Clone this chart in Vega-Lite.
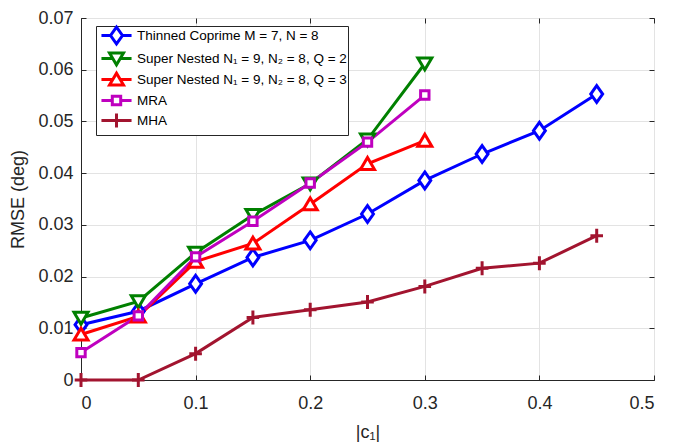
{
  "$schema": "https://vega.github.io/schema/vega-lite/v6.json",
  "width": 573,
  "height": 362,
  "autosize": "none",
  "padding": {"left": 81, "top": 18, "right": 21, "bottom": 63},
  "background": "white",
  "config": {
    "font": "Liberation Sans",
    "view": {"stroke": "#262626", "strokeWidth": 1},
    "axis": {
      "domainColor": "#262626",
      "tickColor": "#262626",
      "tickSize": -5,
      "labelColor": "#262626",
      "labelFont": "Liberation Sans",
      "labelFontSize": 18,
      "titleFont": "Liberation Sans",
      "titleFontSize": 18,
      "titleFontWeight": "normal",
      "titleColor": "#262626",
      "gridColor": "#e3e3e3",
      "gridWidth": 1
    }
  },
  "data": {
    "values": [
      {"s": "TC", "x": 0, "y": 0.0107},
      {"s": "TC", "x": 0.05, "y": 0.0133},
      {"s": "TC", "x": 0.1, "y": 0.0186},
      {"s": "TC", "x": 0.15, "y": 0.0237},
      {"s": "TC", "x": 0.2, "y": 0.0270},
      {"s": "TC", "x": 0.25, "y": 0.0321},
      {"s": "TC", "x": 0.3, "y": 0.0386},
      {"s": "TC", "x": 0.35, "y": 0.0437},
      {"s": "TC", "x": 0.4, "y": 0.0482},
      {"s": "TC", "x": 0.45, "y": 0.0553},
      {"s": "SN2", "x": 0, "y": 0.0120},
      {"s": "SN2", "x": 0.05, "y": 0.0152},
      {"s": "SN2", "x": 0.1, "y": 0.0246},
      {"s": "SN2", "x": 0.15, "y": 0.0319},
      {"s": "SN2", "x": 0.2, "y": 0.0380},
      {"s": "SN2", "x": 0.25, "y": 0.0465},
      {"s": "SN2", "x": 0.3, "y": 0.0612},
      {"s": "SN3", "x": 0, "y": 0.0088},
      {"s": "SN3", "x": 0.05, "y": 0.0123},
      {"s": "SN3", "x": 0.1, "y": 0.0229},
      {"s": "SN3", "x": 0.15, "y": 0.0264},
      {"s": "SN3", "x": 0.2, "y": 0.0340},
      {"s": "SN3", "x": 0.25, "y": 0.0418},
      {"s": "SN3", "x": 0.3, "y": 0.0463},
      {"s": "MRA", "x": 0, "y": 0.0053},
      {"s": "MRA", "x": 0.05, "y": 0.0124},
      {"s": "MRA", "x": 0.1, "y": 0.0238},
      {"s": "MRA", "x": 0.15, "y": 0.0307},
      {"s": "MRA", "x": 0.2, "y": 0.0381},
      {"s": "MRA", "x": 0.25, "y": 0.0460},
      {"s": "MRA", "x": 0.3, "y": 0.0551},
      {"s": "MHA", "x": 0, "y": 0.0},
      {"s": "MHA", "x": 0.05, "y": 0.0},
      {"s": "MHA", "x": 0.1, "y": 0.0051},
      {"s": "MHA", "x": 0.15, "y": 0.0121},
      {"s": "MHA", "x": 0.2, "y": 0.0136},
      {"s": "MHA", "x": 0.25, "y": 0.0151},
      {"s": "MHA", "x": 0.3, "y": 0.0181},
      {"s": "MHA", "x": 0.35, "y": 0.0216},
      {"s": "MHA", "x": 0.4, "y": 0.0226},
      {"s": "MHA", "x": 0.45, "y": 0.0279}
    ]
  },
  "encoding": {
    "x": {"field": "x", "type": "quantitative", "scale": {"domain": [0, 0.5], "nice": false, "zero": false}},
    "y": {"field": "y", "type": "quantitative", "scale": {"domain": [0, 0.07], "nice": false}},
    "stroke": {
      "field": "s", "type": "nominal",
      "scale": {"domain": ["TC", "SN2", "SN3", "MRA", "MHA"], "range": ["#0000FF", "#008000", "#FF0000", "#BF00BF", "#A2142F"]},
      "legend": {
        "title": null,
        "orient": "none",
        "legendX": 15,
        "legendY": 8,
        "padding": 1,
        "strokeColor": "#262626",
        "fillColor": "white",
        "cornerRadius": 0,
        "symbolSize": 196,
        "symbolStrokeWidth": 3,
        "symbolOffset": 11,
        "labelOffset": 12,
        "labelLimit": 500,
        "labelFont": "Liberation Sans",
        "labelFontSize": 13.5,
        "labelColor": "#000000",
        "rowPadding": -4,
        "labelExpr": "datum.value === 'TC' ? 'Thinned Coprime M = 7, N = 8' : datum.value === 'SN2' ? 'Super Nested N₁ = 9, N₂ = 8, Q = 2' : datum.value === 'SN3' ? 'Super Nested N₁ = 9, N₂ = 8, Q = 3' : datum.value",
        "encode": {
          "symbols": {
            "update": {
              "fill": {"value": "white"},
              "shape": {"signal": "datum.value === 'TC' ? 'M-2.15,0H-0.85M0.85,0H2.15M0,-1.2L0.85,0L0,1.2L-0.85,0Z' : datum.value === 'SN2' ? 'M-2.15,0H-0.53M0.53,0H2.15M-1,-0.8L1,-0.8L0,0.9Z' : datum.value === 'SN3' ? 'M-2.15,0H-0.53M0.53,0H2.15M-1,0.8L1,0.8L0,-0.9Z' : datum.value === 'MRA' ? 'M-2.15,0H-0.6M0.6,0H2.15M-0.6,-0.6H0.6V0.6H-0.6Z' : 'M-2.15,0H2.15M0,-1V1'"}
            }
          }
        }
      }
    }
  },
  "layer": [
    {
      "mark": {"type": "line", "strokeWidth": 3},
      "encoding": {
        "x": {"field": "x", "type": "quantitative", "axis": {"values": [0, 0.1, 0.2, 0.3, 0.4, 0.5], "format": "~g", "title": "|c₁|", "labelPadding": 19, "titlePadding": 11, "grid": true}},
        "y": {"field": "y", "type": "quantitative", "axis": {"values": [0, 0.01, 0.02, 0.03, 0.04, 0.05, 0.06, 0.07], "format": "~g", "title": "RMSE (deg)", "labelPadding": 13, "titlePadding": 10, "grid": true}}
      }
    },
    {
      "mark": {"type": "point", "filled": true, "fill": "white", "strokeWidth": 3, "size": 196, "opacity": 1},
      "encoding": {
        "x": {"field": "x", "type": "quantitative", "axis": {"orient": "top", "values": [0, 0.1, 0.2, 0.3, 0.4, 0.5], "labels": false, "title": null, "grid": false, "domain": false}},
        "y": {"field": "y", "type": "quantitative", "axis": {"orient": "right", "values": [0, 0.01, 0.02, 0.03, 0.04, 0.05, 0.06, 0.07], "labels": false, "title": null, "grid": false, "domain": false}},
        "shape": {
          "field": "s", "type": "nominal", "legend": null,
          "scale": {"domain": ["MHA", "MRA", "SN3", "SN2", "TC"], "range": ["M-0.9,0H0.9M0,-1V1", "M-0.6,-0.6H0.6V0.6H-0.6Z", "M-1,0.8L1,0.8L0,-0.9Z", "M-1,-0.8L1,-0.8L0,0.9Z", "M0,-1.2L0.85,0L0,1.2L-0.85,0Z"]}
        }
      }
    }
  ],
  "resolve": {"axis": {"x": "independent", "y": "independent"}}
}
